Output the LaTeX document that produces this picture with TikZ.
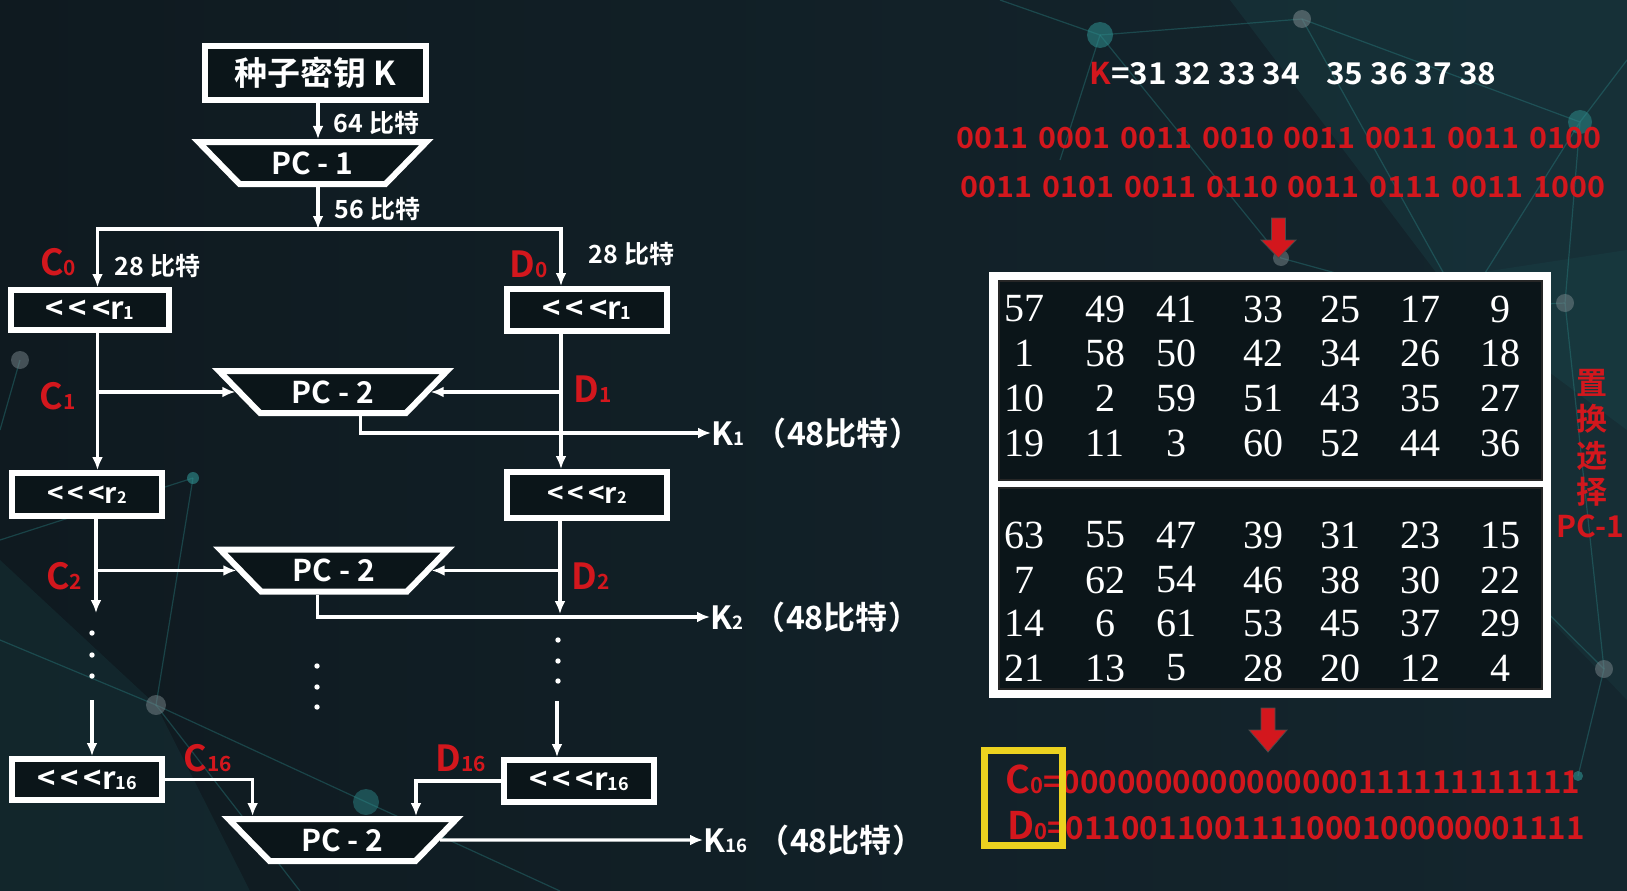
\documentclass[tikz,border=0pt]{standalone}
\usepackage{fontspec}
\usepackage{graphicx}
\usetikzlibrary{shapes.geometric,arrows.meta}
\newfontfamily\cjk{Noto Sans CJK SC}[UprightFont=* Bold]
\newfontfamily\cjkw{Noto Sans CJK SC}[UprightFont=* Bold, FakeStretch=1.05]
\newfontfamily\tms{Liberation Serif}
\newcommand\fsz[1]{\fontsize{#1}{#1}\selectfont}
\newcommand\sbs[1]{\scalebox{0.58}{#1}}
\newcommand\gp{\hspace{10pt}}
\newcommand\kb[1]{K\sbs{#1}\hspace{10pt}（\hspace{1pt}48比特\hspace{1pt}）}
\definecolor{bgA}{HTML}{0F1A20}
\definecolor{bgB}{HTML}{14262E}
\definecolor{boxbg}{HTML}{0B1519}
\definecolor{rd}{HTML}{D3171D}
\definecolor{ylw}{HTML}{ECD21F}
\definecolor{tl}{HTML}{2E9090}
\definecolor{gr}{HTML}{7A878C}
\begin{document}
\begin{tikzpicture}[x=1pt,y=-1pt,
  wbox/.style={draw=white, line width=6pt, fill=boxbg, inner sep=0pt, text=white, font=\cjk\fsz{31}},
  trap/.style={trapezium, trapezium stretches=true, shape border rotate=180, trapezium angle=45,
     draw=white, line width=6pt, fill=boxbg, inner sep=0pt, text=white, font=\cjk\fsz{30},
     minimum width=228pt, minimum height=42pt},
  arr/.style={draw=white, line width=3.3pt, -{Latex[length=13pt,width=11pt]}},
  wlab/.style={text=white, font=\cjk\fsz{25}, inner sep=0pt},
  rlab/.style={text=rd, font=\cjk\fsz{36}, inner sep=0pt},
  klab/.style={text=white, font=\cjk\fsz{32}, inner sep=0pt, anchor=west},
  num/.style={text=white, font=\tms\fsz{40}, inner sep=0pt},
  bin/.style={text=rd, font=\cjkw\fsz{29}, inner sep=0pt},
  deco/.style={draw=tl, line width=1.2pt, opacity=0.35},
]
\useasboundingbox (0,0) rectangle (1627,891);
\shade[left color=bgA, right color=bgB] (0,0) rectangle (1627,891);

% ---- background decoration ----
\fill[tl, opacity=0.10] (1230,0) -- (1627,0) -- (1627,430) -- (1463,308) -- cycle;
\fill[tl, opacity=0.08] (1300,300) -- (1627,250) -- (1627,700) -- (1457,523) -- cycle;
\fill[tl, opacity=0.10] (0,560) -- (156,705) -- (250,891) -- (0,891) -- cycle;
\draw[deco] (1100,35) -- (1302,19) -- (1580,122) -- (1463,308) -- (1565,303) -- (1580,122);
\draw[deco] (1100,35) -- (1281,258) -- (1463,308) -- (1302,19);
\draw[deco] (1463,308) -- (1457,523) -- (1604,669) -- (1578,776);
\draw[deco] (1565,303) -- (1604,669);
\draw[deco] (1000,0) -- (1100,35) -- (1060,160);
\draw[deco] (1580,122) -- (1627,60);
\draw[deco] (20,360) -- (0,430);
\draw[deco] (193,478) -- (156,705) -- (366,802) -- (560,891);
\draw[deco] (156,705) -- (0,640);
\draw[deco] (156,705) -- (300,891);
\draw[deco] (193,478) -- (0,540);
\fill[tl, opacity=0.55] (1100,35) circle (13);
\fill[gr, opacity=0.55] (1302,19) circle (9);
\fill[tl, opacity=0.5] (1580,122) circle (12);
\fill[gr, opacity=0.5] (1565,303) circle (9);
\fill[tl, opacity=0.6] (1463,308) circle (6);
\fill[gr, opacity=0.5] (1281,258) circle (8);
\fill[tl, opacity=0.6] (1457,523) circle (6);
\fill[gr, opacity=0.5] (1604,669) circle (9);
\fill[tl, opacity=0.6] (1578,776) circle (5);
\fill[gr, opacity=0.5] (20,360) circle (9);
\fill[tl, opacity=0.6] (193,478) circle (6);
\fill[gr, opacity=0.5] (156,705) circle (10);
\fill[tl, opacity=0.45] (366,802) circle (13);

% ---- column coordinates ----
\coordinate (colM) at (318,0);
\coordinate (colL) at (97.5,0);
\coordinate (colR) at (561,0);
\coordinate (split) at (0,229);

% ---- left diagram nodes ----
\node[wbox, minimum width=221pt, minimum height=54pt, font=\cjk\fsz{33}] (seed) at (315.5,73) {种子密钥 K};
\node[trap] (pc1) at (312.5,163) {PC - 1};
\node[wbox, minimum width=158pt, minimum height=40pt] (lr1) at (90,310) {<\kern5pt<\kern5pt<r\sbs{1}};
\node[wbox, minimum width=160pt, minimum height=42pt] (rr1) at (587,310) {<\kern5pt<\kern5pt<r\sbs{1}};
\node[trap] (pc2a) at (333,392) {PC - 2};
\node[wbox, minimum width=150pt, minimum height=43pt, font=\cjk\fsz{28}] (lr2) at (87,494.5) {<\kern4pt<\kern4pt<r\sbs{2}};
\node[wbox, minimum width=160pt, minimum height=46pt, font=\cjk\fsz{28}] (rr2) at (587,495) {<\kern4pt<\kern4pt<r\sbs{2}};
\node[trap] (pc2b) at (334,570.5) {PC - 2};
\node[wbox, minimum width=150pt, minimum height=41pt] (lr16) at (87,779.5) {<\kern5pt<\kern5pt<r\sbs{16}};
\node[wbox, minimum width=150pt, minimum height=42pt] (rr16) at (579,781) {<\kern5pt<\kern5pt<r\sbs{16}};
\node[trap] (pc2c) at (342.5,840) {PC - 2};

\node[klab] (k1) at (711,433) {\kb{1}};
\node[klab] (k2) at (710,617) {\kb{2}};
\node[klab] (k16) at (703,840) {\kb{16}};

\node[wlab] (l64) at (376.5,122.5) {64 比特};
\node[wlab] (l56) at (377.5,209) {56 比特};
\node[wlab] (l28a) at (157.5,266) {28 比特};
\node[wlab] (l28b) at (631.5,254) {28 比特};
\node[rlab] (c0) at (58,262) {C\sbs{0}};
\node[rlab] (d0) at (529,264) {D\sbs{0}};
\node[rlab] (c1) at (57.5,396) {C\sbs{1}};
\node[rlab] (d1) at (593,389) {D\sbs{1}};
\node[rlab] (c2) at (64,576) {C\sbs{2}};
\node[rlab] (d2) at (590.5,576) {D\sbs{2}};
\node[rlab] (c16) at (208,758) {C\sbs{16}};
\node[rlab] (d16) at (460.5,758) {D\sbs{16}};

% ---- connectors ----
\draw[arr] (seed.south -| colM) -- (pc1.90 -| colM);
\draw[arr] (pc1.270 -| colM) -- (split -| colM);
\draw[arr] (split -| colM) -| (colL |- lr1.north);
\draw[arr] (split -| colM) -| (colR |- rr1.north);
\draw[arr] (lr1.south -| colL) -- (lr2.north -| colL);
\draw[arr] (rr1.south -| colR) -- (rr2.north -| colR);
\draw[arr] (pc2a.180 -| colL) -- (pc2a.180);
\draw[arr] (pc2a.0 -| colR) -- (pc2a.0);
\draw[arr] ([xshift=27.5pt]pc2a.270) |- (k1.west);
\coordinate (lend) at (96,613);
\coordinate (rend) at (560,614);
\draw[arr] (lr2.south -| lend) -- (lend);
\draw[arr] (rr2.south -| rend) -- (rend);
\draw[arr] (pc2b.180 -| colL) -- (pc2b.180);
\draw[arr] (pc2b.0 -| rend) -- (pc2b.0);
\draw[arr] ([xshift=-16.5pt]pc2b.270) |- (k2.west);
\foreach \px/\py in {92/633,92/655,92/676,317/666,317/687,317/707,558/640,558/661,558/681}
  \fill[white] (\px,\py) circle (2.7);
\coordinate (l16s) at (92,700);
\coordinate (r16s) at (557,701);
\draw[arr] (l16s) -- (l16s |- lr16.north);
\draw[arr] (r16s) -- (r16s |- rr16.north);
\coordinate (jL) at (252.6,0);
\coordinate (jR) at (416,0);
\draw[arr] (lr16.east) -| (jL |- pc2c.90);
\draw[arr] (rr16.west) -| (jR |- pc2c.90);
\draw[arr] (pc2c.0) -- (k16.west);

% ---- right side ----
\node[text=white, font=\cjkw\fsz{30}, inner sep=0pt] (kline) at (1293,74) {\textcolor{rd}{K}=31 32 33 34\hspace{26pt}35 36 37 38};
\node[bin] (b1) at (1279,138) {0011\gp 0001\gp 0011\gp 0010\gp 0011\gp 0011\gp 0011\gp 0100};
\node[bin] (b2) at (1283,187) {0011\gp 0101\gp 0011\gp 0110\gp 0011\gp 0111\gp 0011\gp 1000};
\fill[rd, draw=black!70, line width=0.8pt] (1271.5,218) -- (1285.5,218) -- (1285.5,240) -- (1296,240) -- (1278.5,258) -- (1261,240) -- (1271.5,240) -- cycle;

\fill[white] (989,272) rectangle (1551,698);
\filldraw[fill=boxbg, draw=black!85, line width=1.5pt] (999,281) rectangle (1542,480);
\filldraw[fill=boxbg, draw=black!85, line width=1.5pt] (999,488) rectangle (1542,689);
\foreach \vals [count=\r] in {{57,49,41,33,25,17,9},{1,58,50,42,34,26,18},{10,2,59,51,43,35,27},{19,11,3,60,52,44,36},{63,55,47,39,31,23,15},{7,62,54,46,38,30,22},{14,6,61,53,45,37,29},{21,13,5,28,20,12,4}} {
  \pgfmathsetmacro\yy{{309,353.5,398,443,535,580,623.5,668}[\r-1]}
  \foreach \v [count=\c] in \vals {
    \pgfmathsetmacro\xx{{1024,1105,1176,1263,1340.5,1420.5,1500}[\c-1]}
    \node[num] (n\r-\c) at (\xx,\yy) {\v};
  }
}
\node[text=rd, font=\cjk\fontsize{31}{36.6}\selectfont, align=center, inner sep=0pt] (vlab) at (1592,437.75) {置\\换\\选\\择};
\node[text=rd, font=\cjk\fsz{30}, inner sep=0pt] (vpc) at (1590.5,526) {PC-1};

\fill[rd, draw=black!70, line width=0.8pt] (1261,708) -- (1275,708) -- (1275,730) -- (1287,730) -- (1268,752) -- (1249,730) -- (1261,730) -- cycle;

\node[anchor=west, inner sep=0pt, text=rd] (c0v) at (1005,779) {\cjk\fsz{38}C\sbs{0}{\fsz{31.4}=0000000000000000111111111111}};
\node[anchor=west, inner sep=0pt, text=rd] (d0v) at (1007,826) {\cjk\fsz{38}D\sbs{0}{\fsz{31.4}=0110011001111000100000001111}};
\draw[ylw, line width=6.5pt] (984.5,750.5) rectangle (1062.5,845.5);
\end{tikzpicture}
\end{document}
